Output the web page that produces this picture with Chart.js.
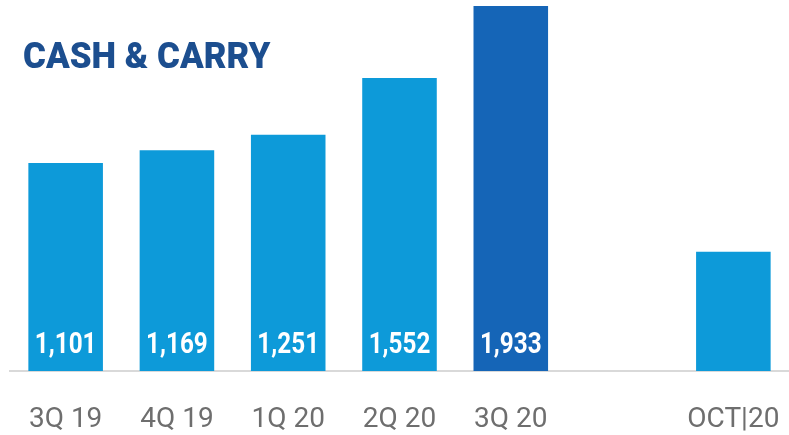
<!DOCTYPE html>
<html>
<head>
<meta charset="utf-8">
<script src="https://cdn.jsdelivr.net/npm/chart.js@4/dist/chart.umd.min.js"></script>
<style>
  html, body { margin: 0; padding: 0; background: #fff; }
  #chartContainer { width: 789px; height: 435px; }
</style>
</head>
<body>
<div id="chartContainer">
  <canvas id="myChart" width="789" height="435"></canvas>
</div>
<script>
"use strict";

const chartTitle = "CASH & CARRY";
const categories = ["3Q 19", "4Q 19", "1Q 20", "2Q 20", "3Q 20", "", "OCT|20"];
const cashCarry = [1101, 1169, 1251, 1552, 1933, null, 632];
const valueLabels = ["1,101", "1,169", "1,251", "1,552", "1,933", "", ""];
const barColors = ["#0d9ad9", "#0d9ad9", "#0d9ad9", "#0d9ad9", "#1565b7", "#0d9ad9", "#0d9ad9"];

// title in the top-left corner, drawn over the plot area
const titlePlugin = {
  id: "cornerTitle",
  afterDraw(chart) {
    const ctx = chart.ctx;
    ctx.save();
    ctx.fillStyle = "#1c4e8f";
    ctx.font = "900 36px Roboto";
    ctx.textAlign = "left";
    ctx.textBaseline = "alphabetic";
    ctx.translate(23, 68);
    ctx.scale(0.97, 1);
    ctx.fillText(chartTitle, 0, 0);
    ctx.restore();
  },
};

// white value labels near the bottom of each bar
const valuePlugin = {
  id: "barValues",
  afterDatasetsDraw(chart) {
    const ctx = chart.ctx;
    const meta = chart.getDatasetMeta(0);
    ctx.save();
    ctx.fillStyle = "#ffffff";
    ctx.font = "bold 30px Roboto";
    ctx.textAlign = "center";
    ctx.textBaseline = "alphabetic";
    meta.data.forEach((bar, i) => {
      if (!valueLabels[i]) return;
      ctx.save();
      ctx.translate(bar.x, 353);
      ctx.scale(0.81, 1);
      ctx.fillText(valueLabels[i], 0, 0);
      ctx.restore();
    });
    ctx.restore();
  },
};

const chartConfig = {
  type: "bar",
  data: {
    labels: categories,
    datasets: [
      {
        label: chartTitle,
        data: cashCarry,
        backgroundColor: barColors,
        borderWidth: 0,
        barPercentage: 0.67,
        categoryPercentage: 1,
      },
    ],
  },
  options: {
    responsive: false,
    animation: false,
    layout: {
      padding: { left: 10, right: 0, top: 6, bottom: 0 },
    },
    plugins: {
      legend: { display: false },
      tooltip: { enabled: false },
    },
    scales: {
      x: {
        grid: { display: false, drawTicks: false },
        border: { display: true, color: "#d9d9d9", width: 2 },
        ticks: {
          color: "#6e6e6e",
          font: { family: "Roboto", size: 28, weight: "normal", lineHeight: 1.2 },
          padding: 32,
          maxRotation: 0,
          autoSkip: false,
        },
        afterFit(scale) {
          scale.height = 64;
          scale.paddingLeft = 0;
          scale.paddingRight = 0;
        },
      },
      y: {
        display: false,
        min: 0,
        max: 1933,
      },
    },
  },
  plugins: [titlePlugin, valuePlugin],
};

const canvas = document.getElementById("myChart");
const myChart = new Chart(canvas.getContext("2d"), chartConfig);
</script>
</body>
</html>
